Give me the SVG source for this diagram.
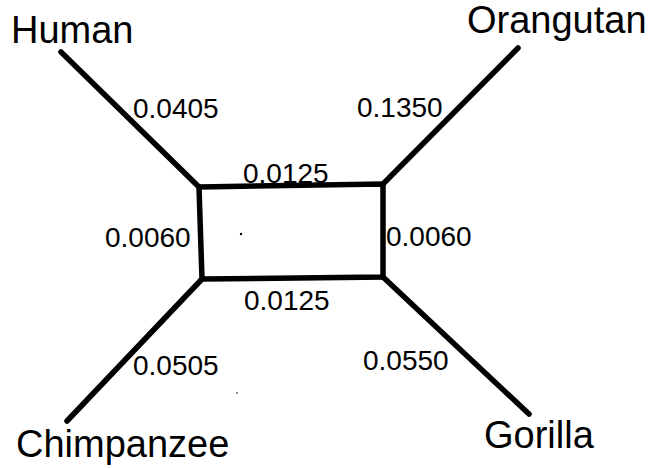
<svg xmlns="http://www.w3.org/2000/svg" width="653" height="468" viewBox="0 0 653 468">
  <style>
    .edge { stroke: #000; stroke-width: 5.5; fill: none; stroke-linecap: round; stroke-linejoin: miter; }
    .taxon { font-family: "Liberation Sans", Arial, sans-serif; font-size: 38px; fill: #000; }
    .len { font-family: "Liberation Sans", Arial, sans-serif; font-size: 28px; fill: #000; }
  </style>
  <rect width="653" height="468" fill="#fff"/>
  <!-- branches of the network -->
  <g id="connectors">
    <polygon class="edge" points="199,187 383,184 383,277 202,279"/>
    <line class="edge" x1="199" y1="187" x2="61" y2="52"/>
    <line class="edge" x1="383" y1="184" x2="518" y2="48"/>
    <line class="edge" x1="202" y1="279" x2="67" y2="421"/>
    <line class="edge" x1="383" y1="277" x2="529" y2="414"/>
  </g>
  <!-- branch lengths -->
  <g id="lengths">
    <text class="len" x="133" y="118">0.0405</text>
    <text class="len" x="357" y="117">0.1350</text>
    <text class="len" x="243" y="183">0.0125</text>
    <text class="len" x="105" y="247">0.0060</text>
    <text class="len" x="386" y="246">0.0060</text>
    <text class="len" x="244" y="310">0.0125</text>
    <text class="len" x="133" y="375">0.0505</text>
    <text class="len" x="363" y="370">0.0550</text>
  </g>
  <g id="human"><text class="taxon" x="11" y="43">Human</text></g>
  <g id="orangutan"><text class="taxon" x="467" y="33">Orangutan</text></g>
  <g id="chimpanzee"><text class="taxon" x="16" y="457">Chimpanzee</text></g>
  <g id="gorilla"><text class="taxon" x="484" y="448">Gorilla</text></g>
  <circle cx="241" cy="234" r="1.2" fill="#000"/>
  <circle cx="237" cy="393" r="0.8" fill="#000"/>
</svg>
